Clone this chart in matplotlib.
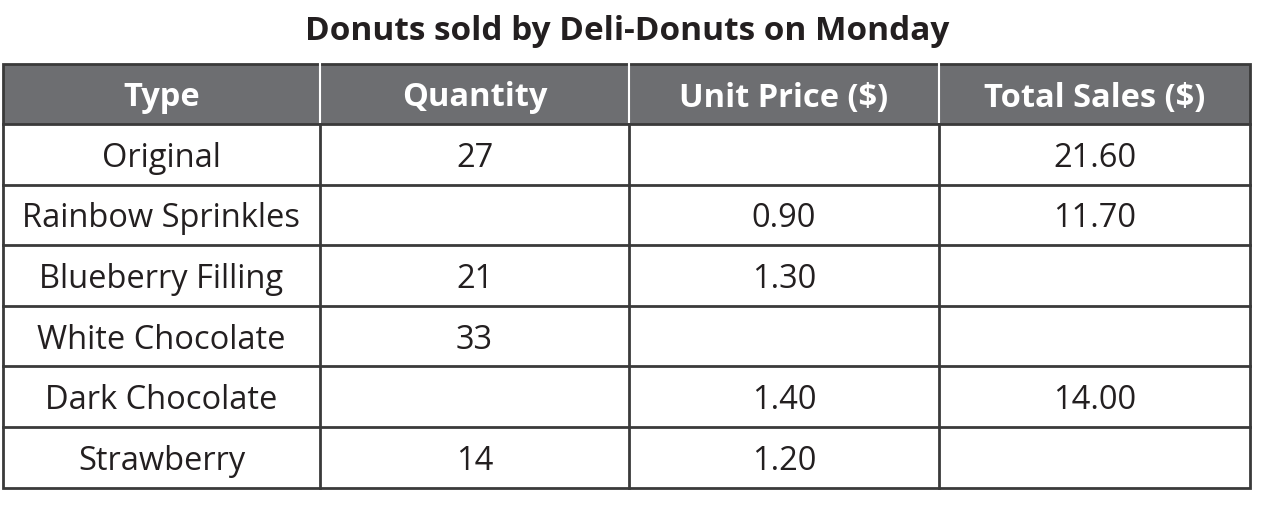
import matplotlib.pyplot as plt
from matplotlib.patches import Rectangle

title = "Donuts sold by Deli-Donuts on Monday"
headers = ["Type", "Quantity", "Unit Price ($)", "Total Sales ($)"]
types = ["Original", "Rainbow Sprinkles", "Blueberry Filling",
         "White Chocolate", "Dark Chocolate", "Strawberry"]
quantity = ["27", "", "21", "33", "", "14"]
unit_price = ["", "0.90", "1.30", "", "1.40", "1.20"]
total_sales = ["21.60", "11.70", "", "", "14.00", ""]

plt.rcParams['font.family'] = ['Open Sans', 'DejaVu Sans']

fig = plt.figure(figsize=(12.74, 5.12), dpi=100)
ax = fig.add_axes([0, 0, 1, 1])
ax.set_xlim(0, 1274)
ax.set_ylim(512, 0)
ax.axis('off')

col_x = [3, 320, 629, 939, 1250]
top = 64
head_h = 60
row_h = 60.6
edge = '#3a3a3a'
head_fill = '#6d6e71'

columns = [types, quantity, unit_price, total_sales]
n_rows = len(types)
bottom = top + head_h + n_rows * row_h

# title
ax.text(627, 32, title, ha='center', va='center', fontsize=24,
        fontweight='bold', color='#231f20')

# header band
ax.add_patch(Rectangle((col_x[0], top), col_x[-1] - col_x[0], head_h,
                       facecolor=head_fill, edgecolor='none'))
for j, h in enumerate(headers):
    cx = (col_x[j] + col_x[j + 1]) / 2
    ax.text(cx, top + head_h / 2 + 4, h, ha='center', va='center',
            fontsize=23.5, fontweight='bold', color='white')
for x in col_x[1:-1]:
    ax.plot([x, x], [top, top + head_h], color='white', lw=1.5)

# body cells
for i in range(n_rows):
    y0 = top + head_h + i * row_h
    for j, col in enumerate(columns):
        cx = (col_x[j] + col_x[j + 1]) / 2
        if col[i]:
            ax.text(cx, y0 + row_h / 2 + 4, col[i], ha='center', va='center',
                    fontsize=23.5, color='#231f20')
    ax.plot([col_x[0], col_x[-1]], [y0, y0], color=edge, lw=2)
for x in col_x[1:-1]:
    ax.plot([x, x], [top + head_h, bottom], color=edge, lw=2)

ax.add_patch(Rectangle((col_x[0], top), col_x[-1] - col_x[0], bottom - top,
                       facecolor='none', edgecolor=edge, lw=2))

plt.savefig('out.png', dpi=100)
